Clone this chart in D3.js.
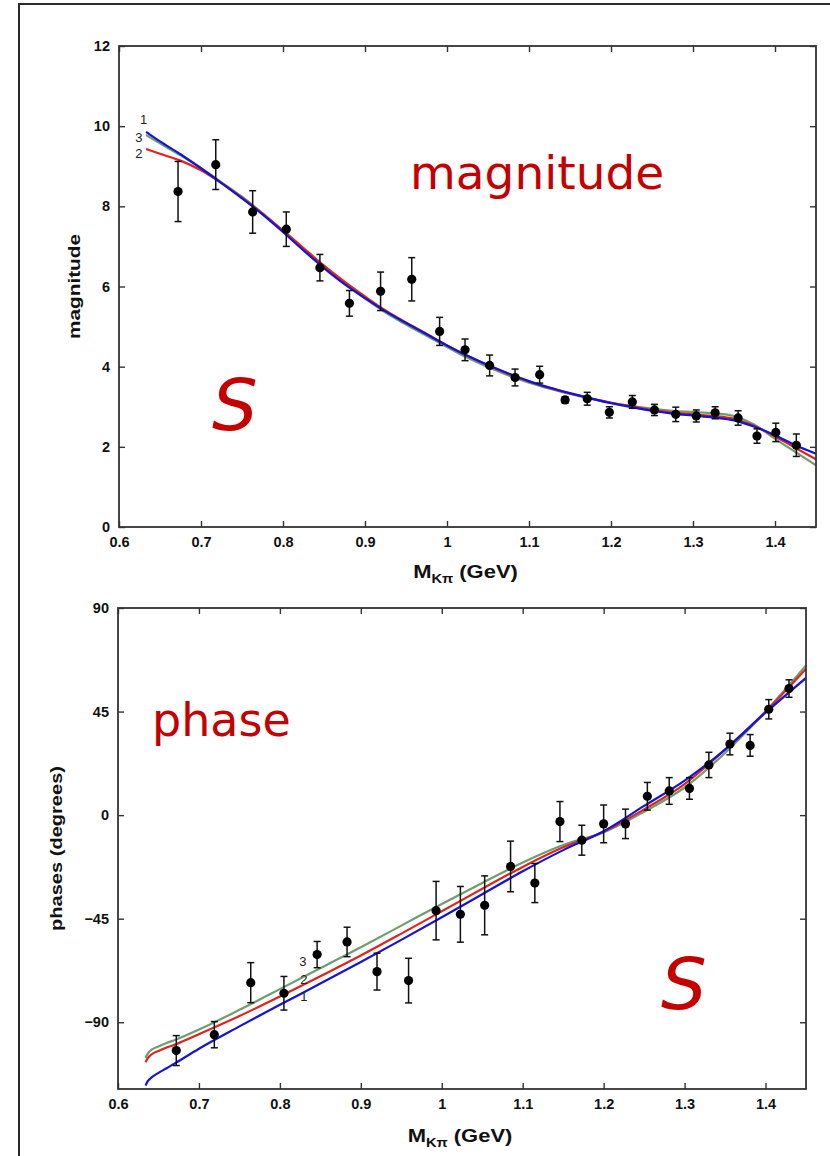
<!DOCTYPE html>
<html>
<head>
<meta charset="utf-8">
<script src="https://cdn.jsdelivr.net/npm/d3@7"></script>
<style>
  body { margin: 0; background: #fff; }
  svg { display: block; }
</style>
</head>
<body>
<svg id="chart" width="830" height="1156"></svg>
<script>
// ---------- S-wave magnitude: measured points ----------
const magX   = [0.672,0.718,0.763,0.804,0.845,0.881,0.919,0.957,0.991,1.022,1.052,1.083,1.113,1.144,1.171,1.198,1.226,1.253,1.279,1.304,1.327,1.355,1.378,1.401,1.426];
const magVal = [8.37,9.04,7.86,7.43,6.47,5.58,5.88,6.18,4.88,4.42,4.03,3.73,3.80,3.17,3.20,2.86,3.12,2.92,2.81,2.77,2.85,2.72,2.27,2.36,2.04];
const magErr = [0.75,0.62,0.53,0.43,0.33,0.32,0.48,0.54,0.35,0.27,0.26,0.21,0.21,0.08,0.16,0.14,0.16,0.14,0.18,0.15,0.15,0.18,0.18,0.23,0.28];

// ---------- S-wave magnitude: model curves 1, 2, 3 ----------
const magCurveX = [0.633,0.65,0.675,0.70,0.725,0.75,0.775,0.80,0.825,0.85,0.875,0.90,0.925,0.95,0.975,1.0,1.025,1.05,1.075,1.10,1.125,1.15,1.175,1.20,1.225,1.25,1.275,1.30,1.325,1.35,1.375,1.40,1.425,1.45];
const magModel1 = [9.86,9.62,9.30,8.95,8.58,8.20,7.80,7.36,6.90,6.46,6.06,5.71,5.38,5.09,4.81,4.53,4.27,4.04,3.83,3.64,3.48,3.34,3.21,3.09,2.99,2.90,2.83,2.78,2.73,2.66,2.50,2.29,2.04,1.83];
const magModel2 = [9.43,9.31,9.14,8.90,8.58,8.22,7.82,7.40,6.96,6.52,6.12,5.75,5.40,5.10,4.82,4.53,4.27,4.03,3.82,3.63,3.47,3.33,3.21,3.10,3.01,2.92,2.86,2.81,2.77,2.70,2.52,2.26,1.97,1.69];
const magModel3 = [9.78,9.57,9.27,8.95,8.60,8.24,7.83,7.38,6.93,6.49,6.07,5.70,5.35,5.05,4.77,4.49,4.22,3.99,3.78,3.60,3.45,3.32,3.20,3.10,3.02,2.95,2.90,2.87,2.84,2.77,2.55,2.20,1.87,1.54];

// ---------- S-wave phase: measured points ----------
const phaseX   = [0.672,0.719,0.764,0.805,0.846,0.883,0.920,0.959,0.993,1.023,1.053,1.085,1.115,1.146,1.173,1.200,1.227,1.254,1.281,1.306,1.330,1.356,1.381,1.404,1.429];
const phaseVal = [-102.3,-95.4,-72.8,-77.4,-60.6,-55.1,-68.0,-71.9,-41.5,-43.1,-39.2,-22.3,-29.5,-2.8,-10.9,-3.8,-3.8,8.2,10.5,11.6,21.8,30.9,30.3,46.0,55.0];
const phaseErr = [6.5,5.7,8.7,7.3,5.7,6.4,8.0,9.7,12.7,12.1,12.8,11.0,8.5,8.7,6.5,8.2,6.4,6.0,5.8,4.7,5.5,4.7,4.7,4.2,3.8];

// ---------- S-wave phase: model curves 1, 2, 3 ----------
const phaseCurveX = [0.634,0.637,0.642,0.65,0.66,0.672,0.70,0.75,0.80,0.85,0.90,0.95,1.0,1.05,1.1,1.15,1.2,1.25,1.3,1.35,1.4,1.45];
const phaseModel1 = [-117.5,-115.5,-113.8,-112,-110,-107.5,-101.5,-91.8,-82.4,-73.2,-63.8,-54.2,-44.4,-34.4,-24.4,-15.2,-7,4,15,28.5,44.5,59.6];
const phaseModel2 = [-107.4,-105.5,-103.8,-102.5,-101,-99.5,-95.2,-87.3,-78.8,-70,-61,-51.5,-41.8,-32,-22.5,-14,-7.2,2.5,13.5,28.5,45,63.5];
const phaseModel3 = [-105.5,-103.5,-101.8,-100.5,-99,-97.5,-93.2,-84.6,-75.6,-66.5,-57.4,-48,-38.6,-29.5,-20.6,-13,-7.5,1.5,12,27,45,65];

// ---------- axis ticks ----------
const xTicks = [0.6,0.7,0.8,0.9,1.0,1.1,1.2,1.3,1.4];
const xTickLabels = ["0.6","0.7","0.8","0.9","1","1.1","1.2","1.3","1.4"];
const magTicks = [0,2,4,6,8,10,12];
const phaseTicks = [-90,-45,0,45,90];

const modelColors = { "1": "#1414d8", "2": "#e2231c", "3": "#6f9d70" };
const axisColor = "#333";
const tickFont = "'Liberation Sans', Arial, sans-serif";

const svg = d3.select("#chart");

// outer page frame
svg.append("rect")
  .attr("x", 19).attr("y", 4).attr("width", 900).attr("height", 1300)
  .attr("fill", "none").attr("stroke", "#2a2a2a").attr("stroke-width", 2);

function drawPanel(cfg) {
  const x = d3.scaleLinear().domain([0.6, 1.45]).range([cfg.left, cfg.right]);
  const y = d3.scaleLinear().domain(cfg.yDomain).range([cfg.bottom, cfg.top]);
  const g = svg.append("g");

  // model curves (3 under 2 under 1)
  const line = d3.line().x(d => x(d[0])).y(d => y(d[1])).curve(d3.curveMonotoneX);
  const clipId = "clip" + cfg.id;
  g.append("clipPath").attr("id", clipId).append("rect")
    .attr("x", cfg.left).attr("y", cfg.top)
    .attr("width", cfg.right - cfg.left).attr("height", cfg.bottom - cfg.top);
  const curves = g.append("g").attr("clip-path", `url(#${clipId})`);
  [["3", cfg.models[2]], ["2", cfg.models[1]], ["1", cfg.models[0]]].forEach(([key, vals]) => {
    curves.append("path")
      .datum(cfg.curveX.map((cx, i) => [cx, vals[i]]))
      .attr("d", line)
      .attr("fill", "none")
      .attr("stroke", modelColors[key])
      .attr("stroke-width", 2.2)
      .attr("stroke-linejoin", "round");
  });

  // error bars and points
  const pts = cfg.px.map((px, i) => ({ x: px, v: cfg.pv[i], e: cfg.pe[i] }));
  const eb = g.append("g").attr("stroke", "#111").attr("stroke-width", 1.5).attr("fill", "none");
  pts.forEach(p => {
    const cx = x(p.x), y1 = y(p.v + p.e), y2 = y(p.v - p.e);
    eb.append("line").attr("x1", cx).attr("x2", cx).attr("y1", y1).attr("y2", y2);
    eb.append("line").attr("x1", cx - 3.5).attr("x2", cx + 3.5).attr("y1", y1).attr("y2", y1);
    eb.append("line").attr("x1", cx - 3.5).attr("x2", cx + 3.5).attr("y1", y2).attr("y2", y2);
  });
  g.append("g").selectAll("circle").data(pts).join("circle")
    .attr("cx", d => x(d.x)).attr("cy", d => y(d.v)).attr("r", 4.6).attr("fill", "#000");

  // axes: inward ticks on all four sides
  const styleAxis = sel => {
    sel.select(".domain").remove();
    sel.selectAll(".tick line").attr("stroke", axisColor).attr("stroke-width", 1.4);
    sel.selectAll(".tick text")
      .attr("fill", "#111").attr("font-family", tickFont)
      .attr("font-size", 14.5).attr("font-weight", "bold");
  };
  g.append("g").attr("transform", `translate(0,${cfg.bottom})`)
    .call(d3.axisBottom(x).tickValues(xTicks).tickFormat((d, i) => xTickLabels[i])
      .tickSizeInner(-6).tickSizeOuter(0).tickPadding(10))
    .call(styleAxis);
  g.append("g").attr("transform", `translate(0,${cfg.top})`)
    .call(d3.axisTop(x).tickValues(xTicks).tickFormat("").tickSizeInner(-6).tickSizeOuter(0))
    .call(styleAxis);
  g.append("g").attr("transform", `translate(${cfg.left},0)`)
    .call(d3.axisLeft(y).tickValues(cfg.yTicks).tickFormat(d3.format("d"))
      .tickSizeInner(-6).tickSizeOuter(0).tickPadding(9))
    .call(styleAxis);
  g.append("g").attr("transform", `translate(${cfg.right},0)`)
    .call(d3.axisRight(y).tickValues(cfg.yTicks).tickFormat("").tickSizeInner(-6).tickSizeOuter(0))
    .call(styleAxis);
  g.append("rect")
    .attr("x", cfg.left).attr("y", cfg.top)
    .attr("width", cfg.right - cfg.left).attr("height", cfg.bottom - cfg.top)
    .attr("fill", "none").attr("stroke", axisColor).attr("stroke-width", 1.8);

  // x-axis title  M_Kπ (GeV)
  const xt = g.append("g")
    .attr("transform", `translate(${(cfg.left + cfg.right) / 2 - 2},${cfg.xTitleY}) scale(1.22,1)`)
    .append("text")
    .attr("text-anchor", "middle").attr("font-family", tickFont)
    .attr("font-weight", "bold").attr("fill", "#111");
  xt.append("tspan").attr("font-size", 18).text("M");
  xt.append("tspan").attr("font-size", 12).attr("dy", 5).text("Kπ");
  xt.append("tspan").attr("font-size", 18).attr("dy", -5).text(" (GeV)");

  // y-axis title
  g.append("text")
    .attr("transform", `translate(${cfg.yTitleX},${(cfg.top + cfg.bottom) / 2}) rotate(-90)`)
    .attr("text-anchor", "middle").attr("font-family", tickFont)
    .attr("font-weight", "bold").attr("font-size", 17).attr("fill", "#111")
    .attr("textLength", cfg.yTitleLen).attr("lengthAdjust", "spacingAndGlyphs")
    .text(cfg.yTitle);

  // curve labels 1, 2, 3
  g.append("g").selectAll("text").data(cfg.curveLabels).join("text")
    .attr("x", d => x(d.x)).attr("y", d => y(d.v))
    .attr("dy", "0.35em").attr("text-anchor", "middle")
    .attr("font-family", tickFont).attr("font-size", 13).attr("fill", "#222")
    .text(d => d.label);

  return { x, y };
}

drawPanel({
  id: "mag", left: 119, right: 816, top: 46, bottom: 527,
  yDomain: [0, 12], yTicks: magTicks,
  px: magX, pv: magVal, pe: magErr,
  curveX: magCurveX, models: [magModel1, magModel2, magModel3],
  xTitleY: 578, yTitleX: 80, yTitle: "magnitude", yTitleLen: 105,
  curveLabels: [
    { label: "1", x: 0.6300, v: 10.16 },
    { label: "3", x: 0.6243, v: 9.72 },
    { label: "2", x: 0.6243, v: 9.32 }
  ]
});

drawPanel({
  id: "phase", left: 118, right: 806, top: 608, bottom: 1089,
  yDomain: [-119, 90], yTicks: phaseTicks,
  px: phaseX, pv: phaseVal, pe: phaseErr,
  curveX: phaseCurveX, models: [phaseModel1, phaseModel2, phaseModel3],
  xTitleY: 1142, yTitleX: 62, yTitle: "phases (degrees)", yTitleLen: 165,
  curveLabels: [
    { label: "3", x: 0.8284, v: -63.6 },
    { label: "2", x: 0.8296, v: -71.4 },
    { label: "1", x: 0.8296, v: -78.8 }
  ]
});

// red panel annotations
const annot = [
  { text: "magnitude", x: 410, y: 189, size: 47, italic: false },
  { text: "S", x: 212, y: 430, size: 72, italic: true },
  { text: "phase", x: 152, y: 736, size: 46, italic: false },
  { text: "S", x: 661, y: 1009, size: 72, italic: true }
];
svg.append("g").selectAll("text").data(annot).join("text")
  .attr("x", d => d.x).attr("y", d => d.y)
  .attr("font-family", "'DejaVu Sans', Verdana, sans-serif")
  .attr("font-size", d => d.size)
  .attr("font-style", d => d.italic ? "italic" : "normal")
  .attr("fill", "#c40000")
  .text(d => d.text);
</script>
</body>
</html>
